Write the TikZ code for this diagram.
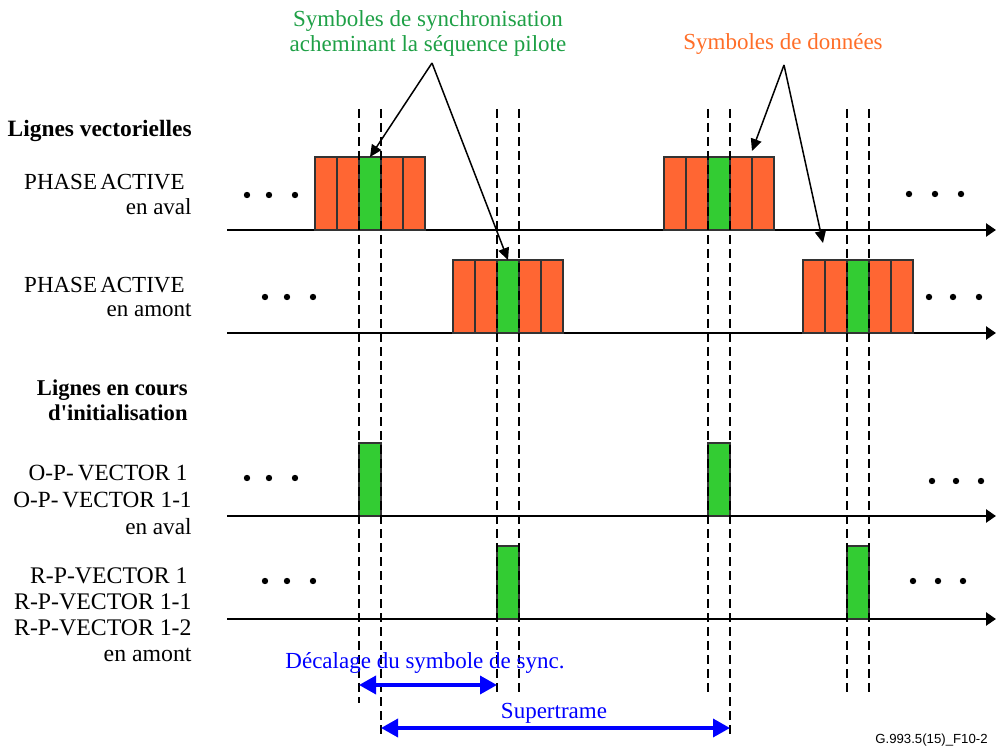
\documentclass[tikz,border=0pt]{standalone}
\usepackage{fontspec}
\setmainfont{Liberation Serif}[Ligatures=TeXOff]
\newfontfamily\refsans{Liberation Sans}
\usetikzlibrary{arrows.meta}
\definecolor{dataorange}{RGB}{255,102,51}
\definecolor{syncgreen}{RGB}{51,204,51}
\definecolor{synctext}{RGB}{30,160,70}
\definecolor{datatext}{RGB}{255,110,40}
\definecolor{measureblue}{RGB}{0,0,255}
\begin{document}
\begin{tikzpicture}[x=0.5pt,y=-0.5pt,
  every node/.style={font=\fontsize{11.5}{12.5}\selectfont},
  cell/.style={draw=black!80, line width=0.75pt, minimum width=11pt,
    minimum height=36.5pt, inner sep=0pt, outer sep=0pt, anchor=south west},
  datacell/.style={cell, fill=dataorange},
  synccell/.style={cell, fill=syncgreen},
  timeaxis/.style={line width=1.25pt, -{Triangle[length=5pt,width=6.5pt]}},
  guide/.style={line width=1pt, dash pattern=on 4.5pt off 2.5pt},
  pointer/.style={line width=0.75pt, -{Triangle[length=6pt,width=5.5pt]}},
  span/.style={measureblue, line width=1.75pt,
    {Triangle[length=8.5pt,width=9pt]}-{Triangle[length=8.5pt,width=9pt]}},
  rowlabel/.style={anchor=east, align=right, inner sep=0pt},
  dot/.style={radius=1.6pt}]
\useasboundingbox (0,0) rectangle (996,748);

% time axes
\foreach \nm/\y in {ax1/230, ax2/333, ax3/516, ax4/619}{
  \coordinate (\nm s) at (227,\y);
  \coordinate (\nm e) at (996,\y);
  \draw[timeaxis] (\nm s) -- (\nm e);
}

% vectored lines: five-symbol blocks, sync symbol in the middle
\foreach \bx/\by/\nm in {315/230/pa, 664/230/pb, 453/333/qa, 803/333/qb}{
  \foreach \i/\st in {0/datacell,1/datacell,2/synccell,3/datacell,4/datacell}{
    \node[\st] (\nm\i) at (\bx+22*\i,\by) {};
  }
}

% initialising lines: sync symbols only
\node[synccell] (oa) at (359,516) {};
\node[synccell] (ob) at (708,516) {};
\node[synccell] (ra) at (497,619) {};
\node[synccell] (rb) at (847,619) {};

% sync symbol boundaries
\foreach \x/\yb in {359/703, 381/738, 497/692, 519/692, 708/692, 730/738, 847/692, 869/692}{
  \draw[guide] (\x,109) -- (\x,\yb);
}

% continuation dots
\foreach \x/\y in {247/195, 269/195, 295/195, 909/194, 935/194, 961/194,
                   265/297, 287/297, 313/297, 929/297, 953/297, 979/297,
                   247/478, 269/478, 295/478, 932/481, 956/481, 981/481,
                   265/581, 287/581, 313/581, 913/581, 938/581, 963/581}{
  \fill (\x,\y) circle[dot];
}

% row labels
\node[rowlabel, font=\bfseries\fontsize{11.7}{12.5}\selectfont] (lv) at (192,131) {Lignes vectorielles};
\node[rowlabel] (pad) at (192,195) {{\spaceskip=1.6pt\relax PHASE ACTIVE}\hspace*{3.5pt}\\en aval};
\node[rowlabel] (pam) at (192,297) {{\spaceskip=1.6pt\relax PHASE ACTIVE}\hspace*{3.5pt}\\en amont};
\node[rowlabel, font=\bfseries\fontsize{11.3}{12.5}\selectfont] (li) at (188,400) {Lignes en cours\\d'initialisation};
\node[rowlabel, font=\fontsize{11.6}{13.5}\selectfont] (opv) at (192,500) {O-P-\kern2pt VECTOR 1\hspace*{2pt}\\O-P-\kern2pt VECTOR 1-1\hspace*{2pt}\\en aval};
\node[rowlabel, font=\fontsize{11.9}{13}\selectfont] (rpv) at (192,615) {R-P-VECTOR 1\hspace*{2pt}\\R-P-VECTOR 1-1\hspace*{2pt}\\R-P-VECTOR 1-2\hspace*{2pt}\\en amont};

% callouts
\node[synctext, align=center, inner sep=0pt] (synclbl) at (428,33) {Symboles de synchronisation\\acheminant la séquence pilote};
\node[datatext, inner sep=0pt] (datalbl) at (783,44) {Symboles de données};
\coordinate (syncapex) at (432,63);
\coordinate (dataapex) at (784,65);
\coordinate (dtipa) at (752,151);
\coordinate (dtipb) at (823,243);
\draw[pointer] (syncapex) -- (pa2.north);
\draw[pointer] (syncapex) -- (qa2.north);
\draw[pointer] (dataapex) -- (dtipa);
\draw[pointer] (dataapex) -- (dtipb);

% offset and superframe spans
\coordinate (offs) at (359,685);
\coordinate (offe) at (497,685);
\coordinate (sfs) at (381,728);
\coordinate (sfe) at (730,728);
\draw[span] (offs) -- (offe);
\draw[span] (sfs) -- (sfe);
\node[measureblue, inner sep=0pt] (offlbl) at (425,663) {Décalage du symbole de sync.};
\node[measureblue, inner sep=0pt] (sflbl) at (554,713) {Supertrame};

% figure reference
\node[anchor=east, inner sep=0pt, font=\refsans\fontsize{6.6}{8}\selectfont] (figref) at (988,740) {G.993.5(15)\_F10-2};
\end{tikzpicture}
\end{document}
